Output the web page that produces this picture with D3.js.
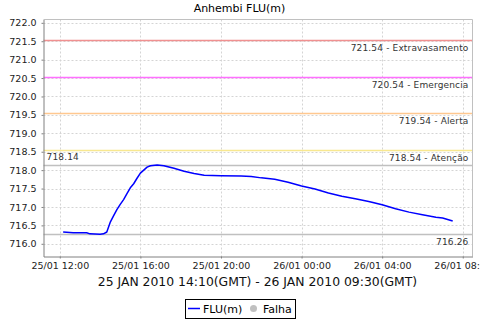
<!DOCTYPE html>
<html><head><meta charset="utf-8">
<script src="https://cdn.jsdelivr.net/npm/d3@7"></script>
<style>
body{margin:0;background:#fff;}
svg{display:block;font-family:"DejaVu Sans",sans-serif;}
</style></head>
<body><svg id="c" width="480" height="320"></svg>
<script>
const title = "Anhembi FLU(m)";
const subtitle = "25 JAN 2010 14:10(GMT) - 26 JAN 2010 09:30(GMT)";
const times = ["2010-01-25T12:10","2010-01-25T12:40","2010-01-25T13:20","2010-01-25T13:30","2010-01-25T14:00",
 "2010-01-25T14:10","2010-01-25T14:20","2010-01-25T14:30","2010-01-25T14:40","2010-01-25T14:50",
 "2010-01-25T15:00","2010-01-25T15:10","2010-01-25T15:20","2010-01-25T15:30","2010-01-25T15:40",
 "2010-01-25T15:50","2010-01-25T16:00","2010-01-25T16:10","2010-01-25T16:20","2010-01-25T16:30",
 "2010-01-25T16:50","2010-01-25T17:10","2010-01-25T17:40","2010-01-25T18:10","2010-01-25T18:40",
 "2010-01-25T19:10","2010-01-25T20:00","2010-01-25T21:00","2010-01-25T21:30","2010-01-25T22:00",
 "2010-01-25T22:20","2010-01-25T22:40","2010-01-25T23:20","2010-01-26T00:00","2010-01-26T00:40",
 "2010-01-26T01:20","2010-01-26T02:00","2010-01-26T02:40","2010-01-26T03:20","2010-01-26T04:00",
 "2010-01-26T04:40","2010-01-26T05:20","2010-01-26T06:00","2010-01-26T06:40","2010-01-26T07:00",
 "2010-01-26T07:30"];
const levels = [716.32,716.30,716.30,716.27,716.26,
 716.27,716.32,716.58,716.76,716.93,
 717.07,717.20,717.36,717.52,717.63,
 717.78,717.92,718.00,718.08,718.12,
 718.14,718.12,718.05,717.97,717.91,
 717.86,717.85,717.84,717.83,717.79,
 717.77,717.75,717.67,717.57,717.49,
 717.38,717.29,717.22,717.15,717.06,
 716.95,716.86,716.79,716.72,716.70,
 716.62];
const markerValues = [721.54, 720.54, 719.54, 718.54, 718.14, 716.26];
const markerLabels = ["721.54 - Extravasamento","720.54 - Emergencia","719.54 - Alerta","718.54 - Atenção","718.14","716.26"];
const markerColors = ["#f09090","#ff70ff","#ffc890","#f8e890","#c0c0c0","#c0c0c0"];
const yTicks = [716.0,716.5,717.0,717.5,718.0,718.5,719.0,719.5,720.0,720.5,721.0,721.5,722.0];
const xTickTimes = ["2010-01-25T12:00","2010-01-25T16:00","2010-01-25T20:00","2010-01-26T00:00","2010-01-26T04:00","2010-01-26T08:00"];
const xDomain = ["2010-01-25T11:11:30","2010-01-26T08:29:00"];
const yDomain = [715.655, 722.09];
const legendLabels = ["FLU(m)","Falha"];

const parse = d3.utcParse("%Y-%m-%dT%H:%M");
const parseS = d3.utcParse("%Y-%m-%dT%H:%M:%S");
const data = times.map((t,i)=>({t:parse(t), v:levels[i]}));

const L=43.5, R=472.5, T=19.5, B=256.5;
const svg = d3.select("#c");
const x = d3.scaleUtc().domain(xDomain.map(parseS)).range([L,R]);
const y = d3.scaleLinear().domain(yDomain).range([B,T]);

// title
svg.append("text").attr("x",239.5).attr("y",12).attr("text-anchor","middle")
  .attr("font-size",11).attr("fill","#000").text(title);

// plot background
svg.append("rect").attr("x",L).attr("y",T).attr("width",R-L).attr("height",B-T).attr("fill","#fff");

// gridlines
const g = svg.append("g");
g.selectAll("line.hg").data(yTicks).join("line").attr("class","hg")
  .attr("x1",L).attr("x2",R).attr("y1",d=>Math.round(y(d))+0.5).attr("y2",d=>Math.round(y(d))+0.5)
  .attr("stroke","#d4d4d4").attr("stroke-dasharray","2,2");
g.selectAll("line.vg").data(xTickTimes.map(parse)).join("line").attr("class","vg")
  .attr("y1",T).attr("y2",B).attr("x1",d=>Math.round(x(d))+0.5).attr("x2",d=>Math.round(x(d))+0.5)
  .attr("stroke","#d4d4d4").attr("stroke-dasharray","2,2");

// marker lines
const mk = svg.append("g");
mk.selectAll("line").data(markerValues).join("line")
  .attr("x1",L).attr("x2",R)
  .attr("y1",d=>Math.round(y(d))+0.5).attr("y2",d=>Math.round(y(d))+0.5)
  .style("stroke",(d,i)=>markerColors[i]).style("stroke-width","1.3px");
mk.selectAll("text").data(markerValues).join("text")
  .attr("x",(d,i)=>markerLabels[i]==="718.14"?46.5:468.5)
  .attr("y",(d,i)=>markerLabels[i]==="718.14"?y(d)-5:y(d)+11)
  .attr("text-anchor",(d,i)=>markerLabels[i]==="718.14"?"start":"end")
  .attr("font-size",9).attr("letter-spacing",0.15).attr("fill","#333")
  .text((d,i)=>markerLabels[i]);

// border
svg.append("line").attr("x1",L).attr("x2",R).attr("y1",T).attr("y2",T).attr("stroke","#c0c0c0");
svg.append("line").attr("x1",R).attr("x2",R).attr("y1",T).attr("y2",B).attr("stroke","#c0c0c0");

// data line
svg.append("path").datum(data)
  .attr("d", d3.line().x(d=>x(d.t)).y(d=>y(d.v)))
  .attr("fill","none").attr("stroke","#0000ff").attr("stroke-width",1.5).attr("stroke-linejoin","round");

// axes
const yAxis = d3.axisLeft(y).tickValues(yTicks).tickFormat(d3.format(".1f")).tickSizeInner(2).tickSizeOuter(0).tickPadding(5);
const ya = svg.append("g").attr("transform",`translate(${L},0)`).call(yAxis);
const xAxis = d3.axisBottom(x).tickValues(xTickTimes.map(parse)).tickFormat(d3.utcFormat("%d/%m %H:%M")).tickSizeInner(2).tickSizeOuter(0).tickPadding(4);
const xa = svg.append("g").attr("transform",`translate(0,${B})`).call(xAxis);
[ya,xa].forEach(a=>{
  a.select(".domain").attr("stroke","#808080");
  a.selectAll(".tick line").attr("stroke","#808080");
  a.selectAll("text").attr("font-family","DejaVu Sans").attr("font-size",9.5).attr("fill","#222");
});

// subtitle
svg.append("text").attr("x",257.5).attr("y",286).attr("text-anchor","middle")
  .attr("font-size",12.4).attr("fill","#111").text(subtitle);

// legend
const lg = svg.append("g");
lg.append("rect").attr("x",185.5).attr("y",299.5).attr("width",110).attr("height",19).attr("fill","#fff").attr("stroke","#000");
lg.append("line").attr("x1",188).attr("x2",200).attr("y1",308.5).attr("y2",308.5).attr("stroke","#0000ff").attr("stroke-width",1.5);
lg.append("text").attr("x",203).attr("y",313).attr("font-size",11).text(legendLabels[0]);
lg.append("circle").attr("cx",253.5).attr("cy",308.5).attr("r",3.5).attr("fill","#c0c0c0");
lg.append("text").attr("x",263).attr("y",313).attr("font-size",11).text(legendLabels[1]);
</script></body></html>
